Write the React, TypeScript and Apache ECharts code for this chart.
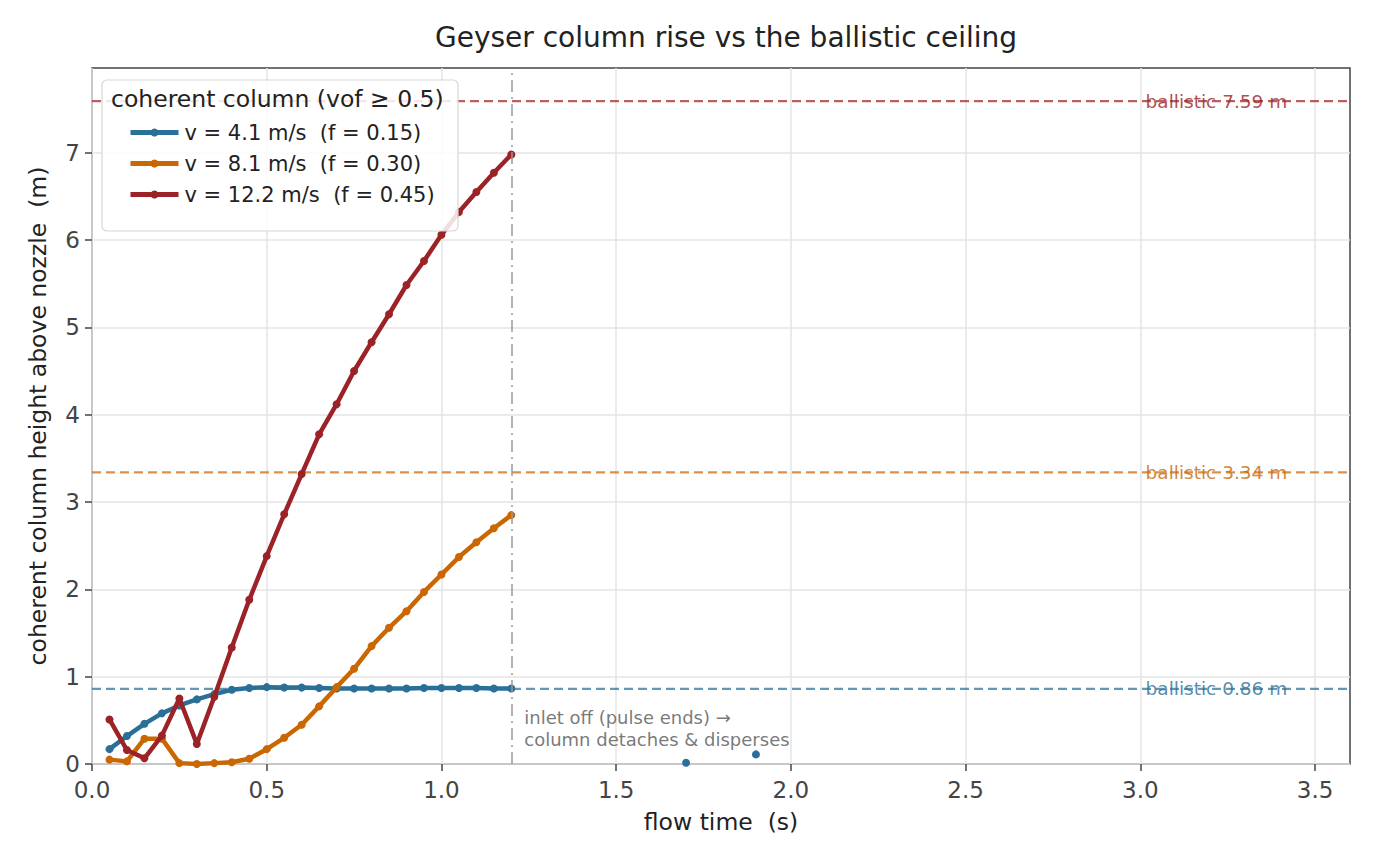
import React, { useEffect, useRef } from "react";
import * as echarts from "echarts";

// ---- data ----
const times = [0.05, 0.1, 0.15, 0.2, 0.25, 0.3, 0.35, 0.4, 0.45, 0.5, 0.55, 0.6, 0.65, 0.7, 0.75, 0.8, 0.85, 0.9, 0.95, 1.0, 1.05, 1.1, 1.15, 1.2];
const blueHeights = [0.17, 0.32, 0.46, 0.58, 0.67, 0.74, 0.8, 0.85, 0.87, 0.88, 0.875, 0.875, 0.87, 0.865, 0.865, 0.865, 0.865, 0.865, 0.87, 0.87, 0.87, 0.87, 0.865, 0.865];
const orangeHeights = [0.05, 0.03, 0.29, 0.29, 0.01, 0.0, 0.01, 0.02, 0.06, 0.17, 0.3, 0.45, 0.66, 0.88, 1.09, 1.35, 1.56, 1.75, 1.97, 2.17, 2.37, 2.54, 2.7, 2.85];
const redHeights = [0.51, 0.16, 0.065, 0.325, 0.75, 0.23, 0.77, 1.335, 1.88, 2.38, 2.86, 3.32, 3.775, 4.12, 4.5, 4.83, 5.15, 5.485, 5.76, 6.06, 6.32, 6.55, 6.77, 6.98];
const blueLateTimes = [1.7, 1.9];
const blueLateHeights = [0.015, 0.11];
const seriesNames = ["v = 4.1 m/s  (f = 0.15)", "v = 8.1 m/s  (f = 0.30)", "v = 12.2 m/s  (f = 0.45)"];
const ballisticHeights = [0.86, 3.34, 7.59];
const seriesColors = ["#2a6f97", "#ca6702", "#9b2226"];
const ballisticColors = ["rgba(42,111,151,0.72)", "rgba(202,103,2,0.72)", "rgba(155,34,38,0.72)"];
const xTicks = [0, 0.5, 1.0, 1.5, 2.0, 2.5, 3.0, 3.5];
const yTicks = [0, 1, 2, 3, 4, 5, 6, 7];
const pulseEnd = 1.2;
const xMax = 3.6;
const yMax = 7.97;
const ballisticLabelX = 3.015;
const annotationPoint = [1.237, 0.41];
const annotationText = "inlet off (pulse ends) \u2192\ncolumn detaches & disperses";

const FONT = "DejaVu Sans";

export default function App() {
  const ref = useRef<HTMLDivElement>(null);
  useEffect(() => {
    document.body.style.margin = "0";
    if (!ref.current) return;
    const chart = echarts.init(ref.current, undefined, { renderer: "svg" });

    const blueData: any[] = times.map((t, i) => [t, blueHeights[i]]);
    blueData.push([1.45, "-"]);
    blueLateTimes.forEach((t, i) => {
      if (i > 0) blueData.push([(blueLateTimes[i - 1] + t) / 2, "-"]);
      blueData.push([t, blueLateHeights[i]]);
    });
    const mainData = [
      blueData,
      times.map((t, i) => [t, orangeHeights[i]]),
      times.map((t, i) => [t, redHeights[i]]),
    ];

    const ballisticSeries = ballisticHeights.map((h, i) => ({
      type: "line",
      name: "ballistic" + i,
      data: [[0, h], [xMax, h]],
      symbol: "none",
      silent: true,
      z: 1,
      lineStyle: { color: ballisticColors[i], width: 2.2, type: [9, 5] },
    }));

    const ballisticLabels = ballisticHeights.map((h, i) => ({
      type: "scatter",
      name: "ballisticLabel" + i,
      data: [[ballisticLabelX, h]],
      symbolSize: 0,
      silent: true,
      z: 6,
      label: {
        show: true,
        position: "right",
        distance: 0,
        formatter: "ballistic " + h.toFixed(2) + " m",
        color: seriesColors[i],
        fontFamily: FONT,
        fontSize: 18.5,
        verticalAlign: "middle",
      },
    }));

    const mainSeries = mainData.map((d, i) => ({
      type: "line",
      name: seriesNames[i],
      data: d,
      symbol: "circle",
      symbolSize: 8,
      showSymbol: true,
      connectNulls: false,
      z: 3 + i * 0.1,
      color: seriesColors[i],
      itemStyle: { color: seriesColors[i] },
      lineStyle: { color: seriesColors[i], width: 4.5 },
      markLine:
        i === 0
          ? {
              silent: true,
              symbol: "none",
              label: { show: false },
              lineStyle: { color: "#9a9a9a", width: 1.5, type: [12, 5, 2, 5] },
              data: [{ xAxis: pulseEnd }],
            }
          : undefined,
    }));

    const annotation = {
      type: "scatter",
      name: "annotation",
      data: [annotationPoint],
      symbolSize: 0,
      silent: true,
      z: 6,
      label: {
        show: true,
        position: "right",
        distance: 0,
        formatter: annotationText,
        color: "#555555",
        fontFamily: FONT,
        fontSize: 18,
        lineHeight: 22,
        align: "left",
        verticalAlign: "middle",
      },
    };

    chart.setOption({
      animation: false,
      backgroundColor: "#ffffff",
      textStyle: { fontFamily: FONT },
      title: {
        text: "Geyser column rise vs the ballistic ceiling",
        left: 721,
        textAlign: "center",
        top: 18,
        textStyle: { fontFamily: FONT, fontSize: 28, fontWeight: "normal", color: "#222222" },
      },
      grid: {
        left: 92,
        right: 26,
        top: 68,
        bottom: 100,
        show: true,
        borderColor: "#444444",
        borderWidth: 1.5,
        backgroundColor: "transparent",
      },
      legend: {
        orient: "vertical",
        left: 123,
        top: 117,
        itemWidth: 48,
        itemHeight: 10,
        itemGap: 10,
        data: seriesNames,
        z: 8,
        lineStyle: { width: 5 },
        itemStyle: { borderWidth: 0 },
        textStyle: { fontFamily: FONT, fontSize: 21, color: "#222222", padding: [0, 0, 0, 1] },
      },
      graphic: [
        {
          type: "rect",
          z: 7,
          shape: { x: 102, y: 80, width: 356, height: 151, r: 5 },
          style: { fill: "rgba(255,255,255,0.85)", stroke: "#d6d6d6", lineWidth: 1.2 },
        },
        {
          type: "text",
          z: 9,
          x: 111,
          y: 99,
          style: {
            text: "coherent column (vof \u2265 0.5)",
            fontFamily: FONT,
            fontSize: 23.5,
            fill: "#222222",
            verticalAlign: "middle",
          },
        },
      ],
      xAxis: {
        type: "value",
        min: 0,
        max: xMax,
        interval: 0.5,
        name: "flow time  (s)",
        nameLocation: "middle",
        nameGap: 46,
        nameTextStyle: { fontFamily: FONT, fontSize: 23.5, color: "#222222" },
        axisLine: { show: false },
        axisTick: { show: true, length: 7, lineStyle: { color: "#444444", width: 1.5 }, customValues: xTicks },
        axisLabel: {
          customValues: xTicks,
          margin: 14,
          fontFamily: FONT,
          fontSize: 23,
          color: "#444444",
          formatter: (v: number) => (xTicks.some((t) => Math.abs(t - v) < 1e-6) ? v.toFixed(1) : ""),
        },
        splitLine: { show: true, lineStyle: { color: "#e5e5e5", width: 1.5 } },
      },
      yAxis: {
        type: "value",
        min: 0,
        max: yMax,
        interval: 1,
        name: "coherent column height above nozzle  (m)",
        nameLocation: "middle",
        nameGap: 42,
        nameTextStyle: { fontFamily: FONT, fontSize: 23.5, color: "#222222" },
        axisLine: { show: false },
        axisTick: { show: true, length: 7, lineStyle: { color: "#444444", width: 1.5 }, customValues: yTicks },
        axisLabel: {
          customValues: yTicks,
          margin: 12,
          fontFamily: FONT,
          fontSize: 23,
          color: "#444444",
          formatter: (v: number) => (yTicks.some((t) => Math.abs(t - v) < 1e-6) ? String(v) : ""),
        },
        splitLine: { show: true, lineStyle: { color: "#e5e5e5", width: 1.5 } },
      },
      series: [...ballisticSeries, ...mainSeries, ...ballisticLabels, annotation],
    });

    return () => chart.dispose();
  }, []);
  return <div ref={ref} style={{ width: 1376, height: 864 }} />;
}
